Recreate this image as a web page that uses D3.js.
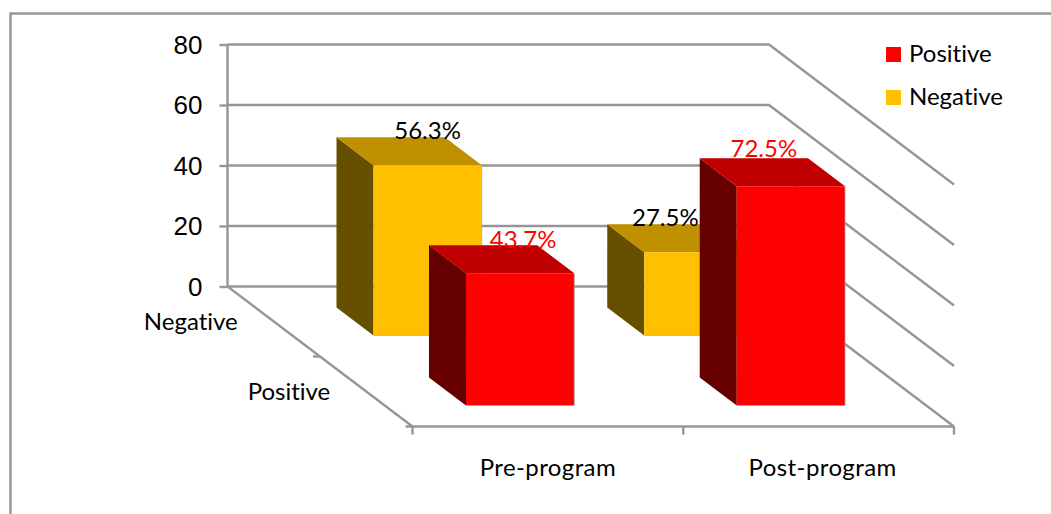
<!DOCTYPE html>
<html>
<head>
<meta charset="utf-8">
<script src="https://cdn.jsdelivr.net/npm/d3@7"></script>
<style>
  html, body { margin: 0; padding: 0; background: #fff; }
  svg { display: block; }
  .num { font-family: "Liberation Sans", Arial, sans-serif; font-size: 26px; fill: #000; }
  .lbl { font-family: Lato, "Open Sans", sans-serif; font-size: 24px; fill: #000; font-variant-ligatures: none; }
  .cat { letter-spacing: 0.4px; }
  .wall { fill: none; stroke: #969696; stroke-width: 2.4; }
</style>
</head>
<body>
<svg id="chart" width="1051" height="514"></svg>
<script>
// ===================================================================
// Data
// ===================================================================
const programs = ["Pre-program", "Post-program"];
const responses = ["Negative", "Positive"];
const negativeValues = [56.3, 27.5];
const positiveValues = [43.7, 72.5];
const yTicks = [0, 20, 40, 60, 80];
const legendOrder = ["Positive", "Negative"];

// Front, top and side face colours for each series
const faces = {
    Negative: { front: "#FFC000", top: "#C09000", side: "#665000", text: "#000" },
    Positive: { front: "#FF0000", top: "#C00000", side: "#660000", text: "#FF0000" }
};

const svg = d3.select("#chart");

// Outer frame, left and top edges only
svg.append("path")
    .attr("d", "M10.5,514V13.5H1051")
    .attr("fill", "none")
    .attr("stroke", "#969696")
    .attr("stroke-width", 2.4);

// ===================================================================
// Scales and the oblique projection
// ===================================================================
const yScale = d3.scaleLinear().domain([0, 80]).range([286.5, 44.5]);

const xScale = d3.scaleBand().domain(programs).range([227.5, 769])
    .paddingInner(0.6).paddingOuter(0.3);

const depthScale = d3.scaleBand().domain(responses).range([0, 1])
    .paddingInner(0.6).paddingOuter(0.3);

// Screen offset of a full walk from back wall to front edge of the floor
const depthX = 185;
const depthY = 140;

// x is on the back wall, d runs 0 (back) to 1 (front), v is the value
function project(x, d, v) {
    return [x + d * depthX, yScale(v) + d * depthY];
}

const poly = d3.line();

// ===================================================================
// Walls and floor
// ===================================================================
const xLeft = xScale.range()[0];
const xRight = xScale.range()[1];
const walls = svg.append("g").attr("class", "wall");

yTicks.forEach(t => {
    walls.append("path").attr("d", poly([
        project(xLeft, 0, t), project(xRight, 0, t), project(xRight, 1, t)
    ]));
});

walls.append("path").attr("d", poly([
    project(xLeft, 0, 80), project(xLeft, 0, 0), project(xLeft, 1, 0), project(xRight, 1, 0)
]));

// ===================================================================
// Axes
// ===================================================================
const yAxis = svg.append("g")
    .attr("transform", `translate(${xLeft},0)`)
    .call(d3.axisLeft(yScale).tickValues(yTicks).tickSize(8).tickPadding(17).tickFormat(d3.format("d")));
yAxis.select(".domain").remove();
yAxis.selectAll("line").attr("stroke", "#969696").attr("stroke-width", 2.4);
yAxis.selectAll("text").attr("class", "num").attr("dy", "0.33em").attr("fill", null);

// Category axis along the front of the floor
const frontY = project(0, 1, 0)[1];
const frontScale = d3.scaleBand().domain(programs).range([xLeft + depthX, xRight + depthX]);
const xAxis = svg.append("g")
    .attr("transform", `translate(0,${frontY})`)
    .call(d3.axisBottom(frontScale).tickSize(0).tickPadding(32));
xAxis.select(".domain").remove();
xAxis.selectAll("text")
    .attr("class", "lbl cat")
    .attr("fill", null)
    .attr("dx", (d, i) => i === 1 ? 4 : 0);

// Tick marks sit on the band edges, not the band centres
[0, 1, 2].forEach(i => {
    const tx = frontScale.range()[0] + i * frontScale.step();
    svg.append("line")
        .attr("x1", tx).attr("x2", tx)
        .attr("y1", frontY).attr("y2", frontY + 8)
        .attr("stroke", "#969696").attr("stroke-width", 2.4);
});

// Depth axis ticks and labels on the left edge of the floor
[0.5, 1].forEach(d => {
    const [tx, ty] = project(xLeft, d, 0);
    svg.append("line")
        .attr("x1", tx - 7).attr("x2", tx)
        .attr("y1", ty).attr("y2", ty)
        .attr("stroke", "#969696").attr("stroke-width", 2.4);
});

responses.forEach(r => {
    const d = depthScale(r) + depthScale.bandwidth() / 2;
    const [tx, ty] = project(xLeft, d, 0);
    svg.append("text")
        .attr("class", "lbl")
        .attr("x", tx - 36)
        .attr("y", ty + 8.5)
        .attr("text-anchor", "end")
        .text(r);
});

// ===================================================================
// Bars, back row first so the front row covers it
// ===================================================================
const bars = svg.append("g");
const rows = [
    { name: "Negative", values: negativeValues },
    { name: "Positive", values: positiveValues }
];

rows.forEach(row => {
    const colors = faces[row.name];
    const d0 = depthScale(row.name);
    const d1 = d0 + depthScale.bandwidth();

    row.values.forEach((v, i) => {
        const x0 = xScale(programs[i]);
        const x1 = x0 + xScale.bandwidth();
        const g = bars.append("g");

        g.append("path").attr("fill", colors.side).attr("d", poly([
            project(x0, d0, 0), project(x0, d0, v), project(x0, d1, v), project(x0, d1, 0)
        ]) + "Z");
        g.append("path").attr("fill", colors.top).attr("d", poly([
            project(x0, d0, v), project(x1, d0, v), project(x1, d1, v), project(x0, d1, v)
        ]) + "Z");
        g.append("path").attr("fill", colors.front).attr("d", poly([
            project(x0, d1, 0), project(x0, d1, v), project(x1, d1, v), project(x1, d1, 0)
        ]) + "Z");

        // Faint edge down the right and along the bottom of the front face
        g.append("path")
            .attr("fill", "none")
            .attr("stroke", "#a8a8a8")
            .attr("stroke-width", 1)
            .attr("stroke-opacity", 0.7)
            .attr("d", poly([project(x1, d1, v), project(x1, d1, 0), project(x0, d1, 0)]));
    });
});

// ===================================================================
// Value labels, placed by hand relative to each bar's back top edge
// ===================================================================
const labelShift = {
    Negative: [[37, 2], [4, 2]],
    Positive: [[40, 3], [10, -1]]
};

rows.forEach(row => {
    const d0 = depthScale(row.name);
    row.values.forEach((v, i) => {
        const x0 = xScale(programs[i]);
        const [px, py] = project(x0 + xScale.bandwidth() / 2, d0, v);
        const [sx, sy] = labelShift[row.name][i];
        svg.append("text")
            .attr("class", "lbl")
            .attr("x", px + sx)
            .attr("y", py + sy)
            .attr("text-anchor", "middle")
            .style("fill", faces[row.name].text)
            .text(`${v.toFixed(1)}%`);
    });
});

// ===================================================================
// Legend
// ===================================================================
const legend = svg.append("g").attr("transform", "translate(886,47)");

legendOrder.forEach((name, i) => {
    const item = legend.append("g").attr("transform", `translate(0,${i * 43})`);
    item.append("rect")
        .attr("width", 15).attr("height", 15)
        .attr("fill", faces[name].front);
    item.append("text")
        .attr("class", "lbl")
        .attr("x", 23)
        .attr("y", 15)
        .text(name);
});
</script>
</body>
</html>
